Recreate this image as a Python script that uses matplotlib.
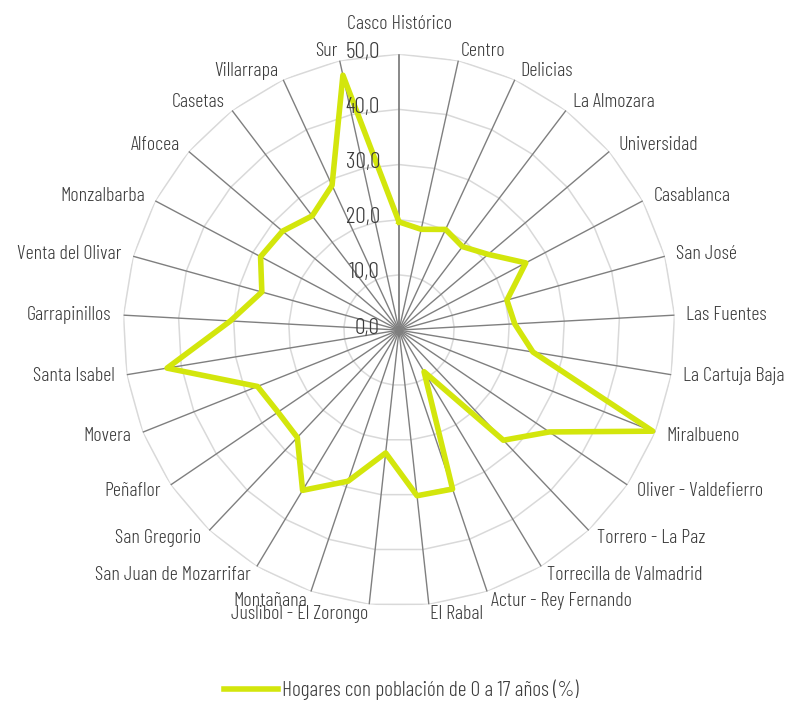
import numpy as np
import matplotlib
matplotlib.use("Agg")
import matplotlib.pyplot as plt

# fuente estrecha parecida a la del original (si no está, DejaVu)
plt.rcParams['font.family'] = ['Barlow Condensed', 'DejaVu Sans']
plt.rcParams['font.weight'] = 300

# barrios / distritos, en el orden del gráfico (empezando arriba, sentido horario)
barrios = ["Casco Histórico", "Centro", "Delicias", "La Almozara", "Universidad",
           "Casablanca", "San José", "Las Fuentes", "La Cartuja Baja", "Miralbueno",
           "Oliver - Valdefierro", "Torrero - La Paz", "Torrecilla de Valmadrid",
           "Actur - Rey Fernando", "El Rabal", "Juslibol - El Zorongo", "Montañana",
           "San Juan de Mozarrifar", "San Gregorio", "Peñaflor", "Movera",
           "Santa Isabel", "Garrapinillos", "Venta del Olivar", "Monzalbarba",
           "Alfocea", "Casetas", "Villarrapa", "Sur"]

# porcentaje de hogares con población de 0 a 17 años
valores = [19.6, 18.7, 20.1, 19.0, 21.2,
           26.0, 20.3, 21.0, 24.6, 49.5,
           32.9, 27.5, 8.8,
           30.4, 30.2, 22.4, 28.9,
           33.9, 26.8, 26.5, 27.6,
           42.6, 30.6, 25.8, 28.4,
           27.7, 26.0, 28.9, 47.3]

niveles = [0, 10, 20, 30, 40, 50]
etiquetas_niveles = ["0,0", "10,0", "20,0", "30,0", "40,0", "50,0"]
serie = "Hogares con población de 0 a 17 años (%)"

color_linea = "#d3e60c"
color_texto = "#3c3c3c"

n = len(barrios)
theta = np.arange(n) * 2 * np.pi / n

fig = plt.figure(figsize=(7.92, 7.02), dpi=100)
ax = fig.add_axes([0.1553, 0.1368, 0.697, 0.786], projection="polar")
ax.set_theta_zero_location("N")
ax.set_theta_direction(-1)
ax.set_ylim(0, 50)
ax.set_xticks([])
ax.set_yticks([])
ax.grid(False)
ax.spines["polar"].set_visible(False)
ax.patch.set_alpha(0)

# rejilla poligonal (como en Excel)
t_cerrado = np.append(theta, theta[0])
for lv in niveles[1:]:
    ax.plot(t_cerrado, [lv] * (n + 1), color="#d9d9d9", lw=1.1, zorder=1)

# radios
for i, t in enumerate(theta):
    ax.plot([t, t], [0, niveles[-1]], color="#7f7f7f", lw=1.3 if i == 0 else 1.0, zorder=2)

# la serie
v_cerrado = np.append(valores, valores[0])
ax.plot(t_cerrado, v_cerrado, color=color_linea, lw=4.0, solid_joinstyle="round",
        zorder=4, label=serie)

# etiquetas del eje de valores
for lv, txt in zip(niveles, etiquetas_niveles):
    ax.annotate(txt, xy=(0, lv), xytext=(-19, 2), textcoords="offset pixels",
                ha="right", va="center", fontsize=17, color=color_texto, zorder=5)

# etiquetas de las categorías
for i, (t, nombre) in enumerate(zip(theta, barrios)):
    s, c = np.sin(t), np.cos(t)
    if i == 0:
        off = (0, 30)
        ha = "center"
    else:
        off = (12 * s, 10 * c)
        ha = "left" if s > 0 else "right"
    ax.annotate(nombre, xy=(t, niveles[-1]), xytext=off, textcoords="offset pixels",
                ha=ha, va="center", fontsize=14.5, color=color_texto,
                annotation_clip=False)

fig.legend(loc="center", bbox_to_anchor=(0.507, 0.017), frameon=False,
           fontsize=15.5, handlelength=2.5, handletextpad=0.2,
           labelcolor=color_texto)

fig.savefig("out.png", dpi=100, facecolor="white")
